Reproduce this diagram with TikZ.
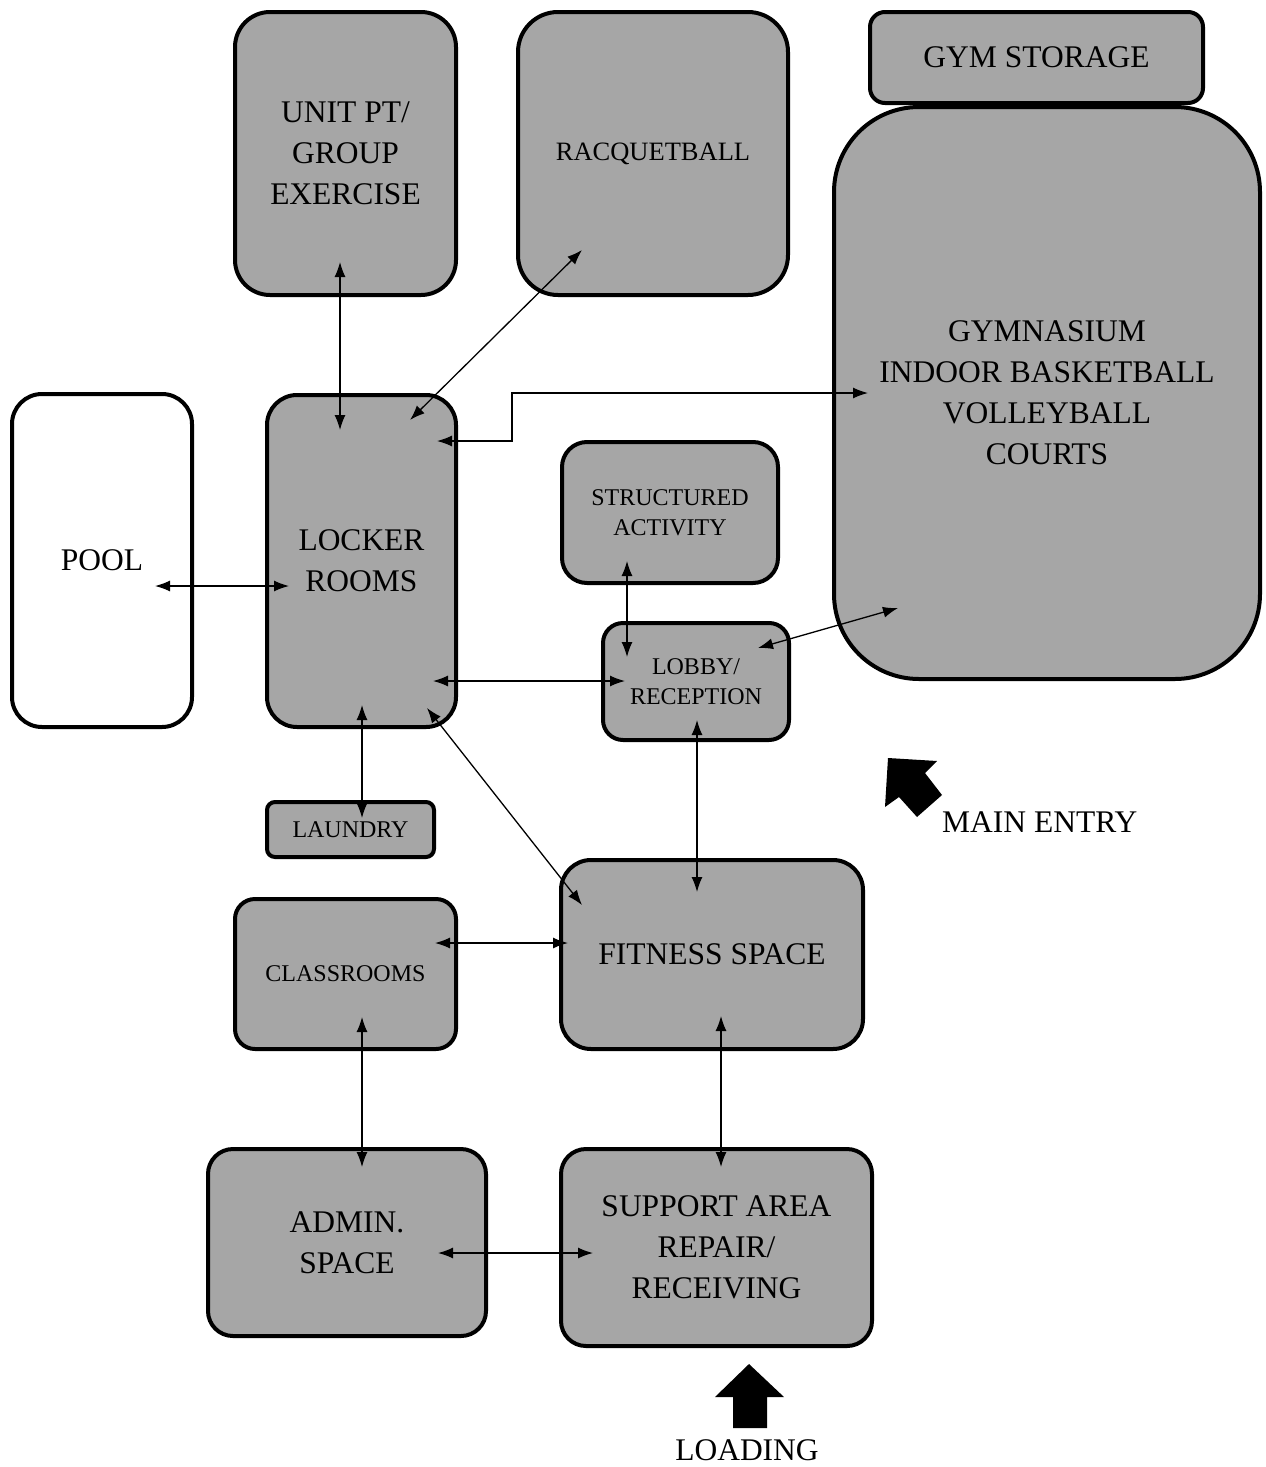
\documentclass[tikz,border=0pt]{standalone}
\usepackage{fontspec}
\setmainfont{Liberation Serif}
\usepackage{tikz}
\usetikzlibrary{arrows.meta}
\definecolor{room}{RGB}{166, 166, 166}
\newcommand{\bigtext}{\fontsize{31.5}{41}\selectfont}
\newcommand{\smalltext}{\fontsize{24}{30.5}\selectfont}

\begin{document}
\begin{tikzpicture}[x=1pt, y=-1pt,
    area/.style={draw, line width=4pt, fill=room, rounded corners=#1,
                 align=center, inner sep=0pt, font=\bigtext},
    area/.default=30pt,
    link/.style={line width=1.3pt, {Latex[length=15pt, width=11pt]}-{Latex[length=15pt, width=11pt]}}]

  \useasboundingbox (0, 0) rectangle (1266, 1467);

  % rooms
  \node[area=85pt, minimum width=426, minimum height=572] (gym) at (1047, 393)
    {GYMNASIUM\\INDOOR BASKETBALL\\VOLLEYBALL\\COURTS};
  \node[area=15pt, minimum width=333, minimum height=91] (storage) at (1036.5, 57.5) {GYM STORAGE};
  \node[area=35pt, minimum width=221, minimum height=283] (unit) at (345.5, 153.5) {UNIT PT/\\GROUP\\EXERCISE};
  \node[area=40pt, minimum width=270, minimum height=283, font=\fontsize{26.5}{33}\selectfont] (racquet) at (653, 153.5) {RACQUETBALL};
  \node[area=30pt, fill=white, minimum width=180, minimum height=333] (pool) at (102, 560.5) {POOL};
  \node[area=30pt, minimum width=189, minimum height=332] (locker) at (361.5, 561) {LOCKER\\ROOMS};
  \node[area=25pt, minimum width=216, minimum height=141, font=\smalltext] (activity) at (670, 512.5) {STRUCTURED\\ACTIVITY};
  \node[area=20pt, minimum width=186, minimum height=117, font=\smalltext] (lobby) at (696, 681.5) {LOBBY/\\RECEPTION};
  \node[area=8pt, minimum width=167, minimum height=55, font=\smalltext] (laundry) at (350.5, 829.5) {LAUNDRY};
  \node[area=20pt, minimum width=221, minimum height=150, font=\smalltext] (class) at (345.5, 974) {CLASSROOMS};
  \node[area=30pt, minimum width=302, minimum height=189] (fitness) at (712, 954.5) {FITNESS SPACE};
  \node[area=25pt, minimum width=278, minimum height=187] (admin) at (347, 1242.5) {ADMIN.\\SPACE};
  \node[area=25pt, minimum width=311, minimum height=197] (support) at (716.5, 1247.5) {SUPPORT AREA\\REPAIR/\\RECEIVING};

  % arrow ends
  \coordinate (unit-s) at (340, 262);
  \coordinate (locker-n) at (340, 430);
  \coordinate (racquet-s) at (582, 250);
  \coordinate (locker-ne) at (410, 420);
  \coordinate (gym-w) at (868, 393);
  \coordinate (locker-e) at (437, 441);
  \coordinate (pool-e) at (155, 586);
  \coordinate (locker-w) at (289, 586);
  \coordinate (activity-s) at (627, 561);
  \coordinate (lobby-n) at (627, 657);
  \coordinate (lobby-ne) at (758, 648);
  \coordinate (gym-sw) at (898, 608);
  \coordinate (locker-se) at (433, 681);
  \coordinate (lobby-w) at (625, 681);
  \coordinate (locker-s) at (362, 705);
  \coordinate (laundry-n) at (362, 818);
  \coordinate (locker-sse) at (427, 708);
  \coordinate (fitness-nw) at (582, 905);
  \coordinate (lobby-s) at (697, 720);
  \coordinate (fitness-n) at (697, 892);
  \coordinate (class-e) at (435, 943);
  \coordinate (fitness-w) at (568, 943);
  \coordinate (class-s) at (362, 1017);
  \coordinate (admin-n) at (362, 1167);
  \coordinate (fitness-s) at (721, 1016);
  \coordinate (support-n) at (721, 1167);
  \coordinate (admin-e) at (438, 1253);
  \coordinate (support-w) at (593, 1253);

  \foreach \a/\b in {unit-s/locker-n, racquet-s/locker-ne, pool-e/locker-w,
                     activity-s/lobby-n, lobby-ne/gym-sw, locker-se/lobby-w,
                     locker-s/laundry-n, locker-sse/fitness-nw, lobby-s/fitness-n,
                     class-e/fitness-w, class-s/admin-n, fitness-s/support-n,
                     admin-e/support-w} {
    \draw[link] (\a) -- (\b);
  }
  \draw[link] (locker-e) -- ++(75, 0) |- (gym-w);

  % entries
  \fill[black] (888, 758) -- (937, 761) -- (925, 773) -- (942, 795)
            -- (917, 817) -- (899, 797) -- (885, 807) -- cycle;
  \node[anchor=west, font=\bigtext, inner sep=0pt] (main) at (942, 822) {MAIN ENTRY};

  \fill[black] (749, 1364) -- (784, 1397) -- (767, 1397) -- (767, 1428)
            -- (733, 1428) -- (733, 1397) -- (715, 1397) -- cycle;
  \node[font=\bigtext, inner sep=0pt] (loading) at (747, 1450) {LOADING};

\end{tikzpicture}
\end{document}
